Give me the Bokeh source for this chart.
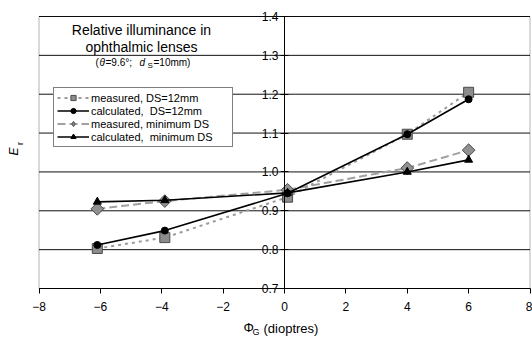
from bokeh.plotting import figure
from bokeh.models import (Range1d, FixedTicker, Legend, LegendItem, Label,
                          PrintfTickFormatter, BoxAnnotation)
from bokeh.embed import file_html
from bokeh.resources import INLINE
import math

# ---- data ----
phi = [-6.1, -3.9, 0.1, 4.0, 6.0]
meas_ds12 = [0.803, 0.831, 0.935, 1.097, 1.205]
calc_ds12 = [0.812, 0.849, 0.945, 1.097, 1.187]
meas_min = [0.905, 0.925, 0.954, 1.010, 1.056]
calc_min = [0.923, 0.927, 0.946, 1.000, 1.031]
x_ticks = [-8, -6, -4, -2, 0, 2, 4, 6, 8]
y_ticks = [0.7, 0.8, 0.9, 1.0, 1.1, 1.2, 1.3, 1.4]
labels = ["measured, DS=12mm", "calculated,  DS=12mm",
          "measured, minimum DS", "calculated,  minimum DS"]

FONT = "Liberation Sans"
W, H = 532, 338
# plot box in pixels (left, right, top, bottom)
BL, BR, BT, BB = 38.5, 529.5, 16.0, 288.0
XMIN, XMAX = x_ticks[0], x_ticks[-1]
YMIN, YMAX = y_ticks[0], y_ticks[-1]
sx = (XMAX - XMIN) / (BR - BL)
sy = (YMAX - YMIN) / (BB - BT)

x_range = Range1d(XMIN - BL * sx, XMAX + (W - BR) * sx)
y_range = Range1d(YMIN - (H - BB) * sy, YMAX + BT * sy)

p = figure(width=W, height=H, x_range=x_range, y_range=y_range,
           output_backend="svg", toolbar_location=None,
           min_border=0, min_border_left=0, min_border_right=0,
           min_border_top=0, min_border_bottom=0)
p.outline_line_color = None
p.background_fill_color = "white"
p.border_fill_color = "white"
p.xgrid.visible = False
p.ygrid.visible = False

# axes (drawn at fixed locations inside the frame)
p.xaxis.ticker = FixedTicker(ticks=x_ticks)
p.yaxis.ticker = FixedTicker(ticks=y_ticks)
p.yaxis.formatter = PrintfTickFormatter(format="%.1f")
p.xaxis.fixed_location = YMIN
p.yaxis.fixed_location = 0
p.xaxis.bounds = (XMIN, XMAX)
p.yaxis.bounds = (YMIN, YMAX)
for ax in (p.xaxis, p.yaxis):
    ax.axis_line_color = "black"
    ax.major_tick_line_color = "black"
    ax.minor_tick_line_color = None
    ax.major_label_text_font = FONT
    ax.major_label_text_font_size = "12px"
    ax.major_label_text_color = "black"
p.xaxis.major_tick_in = 0
p.xaxis.major_tick_out = 5
p.xaxis.major_label_standoff = 8
p.yaxis.major_tick_in = 4
p.yaxis.major_tick_out = 4
p.yaxis.major_label_standoff = 2

# horizontal grid lines across the plot box
p.segment(x0=[XMIN] * len(y_ticks), x1=[XMAX] * len(y_ticks), y0=y_ticks, y1=y_ticks,
          line_color="#111111", line_width=1)

# series
l1 = p.line(phi, meas_ds12, line_color="#9a9a9a", line_width=2, line_dash="3 4")
s1 = p.scatter(phi, meas_ds12, marker="square", size=10, fill_color="#8c8c8c", line_color="#4a4a4a", line_width=1)
l3 = p.line(phi, meas_min, line_color="#a0a0a0", line_width=2, line_dash="8 4")
# diamond swatch for the legend entry (hidden under the first plotted diamond)
s3_key = p.scatter(x=phi[:1], y=meas_min[:1], marker="diamond", size=11,
                   fill_color="#909090", line_color="#4a4a4a", line_width=1)
s3 = p.scatter(phi, meas_min, marker="square", size=9, angle=math.pi / 4,
               fill_color="#909090", line_color="#4a4a4a", line_width=1)
l2 = p.line(phi, calc_ds12, line_color="black", line_width=1.6)
s2 = p.scatter(phi, calc_ds12, marker="circle", size=7, fill_color="black", line_color="black")
l4 = p.line(phi, calc_min, line_color="black", line_width=1.6)
s4 = p.scatter(phi, calc_min, marker="triangle", size=8, fill_color="black", line_color="black")

# plot box outline
p.add_layout(BoxAnnotation(left=XMIN, right=XMAX, bottom=YMIN, top=YMAX,
                           fill_alpha=0, line_color="black", line_width=1))

legend = Legend(items=[
    LegendItem(label=labels[0], renderers=[l1, s1]),
    LegendItem(label=labels[1], renderers=[l2, s2]),
    LegendItem(label=labels[2], renderers=[l3, s3_key]),
    LegendItem(label=labels[3], renderers=[l4, s4]),
], location=(53, H - 147))
legend.label_text_font = FONT
legend.label_text_font_size = "11px"
legend.label_text_color = "black"
legend.label_height = 13
legend.glyph_height = 13
legend.glyph_width = 32
legend.label_width = 138
legend.label_standoff = 2
legend.spacing = 0
legend.padding = 3
legend.margin = 0
legend.border_line_color = "black"
legend.border_line_width = 1
legend.background_fill_color = "white"
legend.background_fill_alpha = 1
p.add_layout(legend)

# pixel -> data helpers for annotation placement
def dx(px):
    return XMIN + (px - BL) * sx

def dy(py):
    return YMIN + (BB - py) * sy

def lab(text, px, py, size, align="center", style="normal", angle=0.0):
    p.add_layout(Label(x=dx(px), y=dy(py), text=text, text_font=FONT, text_font_size=size,
                       text_align=align, text_baseline="middle", text_font_style=style,
                       text_color="black", angle=angle))

# title block
lab("Relative illuminance in", 141, 29, "14px")
lab("ophthalmic lenses", 141, 46, "14px")
lab("(", 95, 62, "10px", align="left")
lab("θ", 99, 62, "10px", align="left", style="italic")
lab("=9.6°; ", 105, 62, "10px", align="left")
lab("d", 139, 62, "10px", align="left", style="italic")
lab("S", 147, 65, "8px", align="left")
lab("=10mm)", 153, 62, "10px", align="left")

# y label
lab("E", 13, 151, "12px", style="italic", angle=math.pi / 2)
lab("r", 19, 143, "9px", angle=math.pi / 2)

# x label
lab("Φ", 243, 327, "13px", align="left")
lab("G", 252, 331, "9px", align="left")
lab("(dioptres)", 263, 328, "13px", align="left")

open("out.html", "w").write(file_html(p, INLINE))
